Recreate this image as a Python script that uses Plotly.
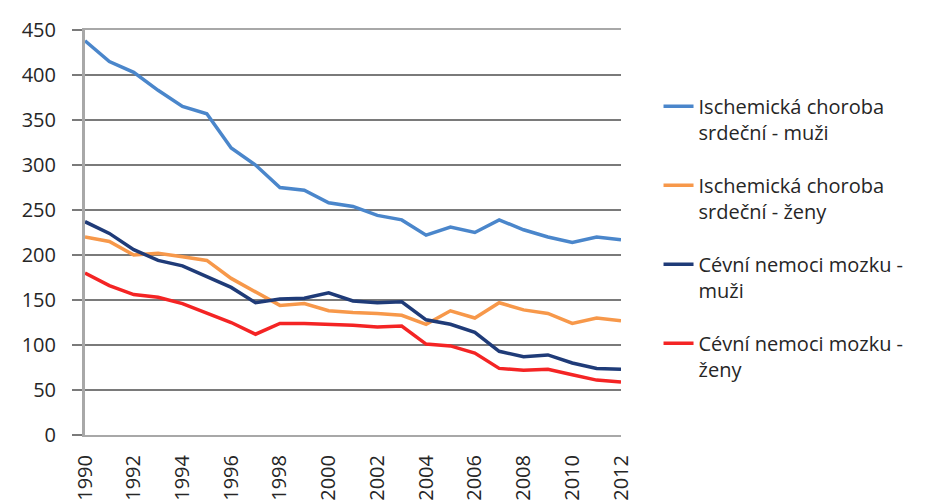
import plotly.graph_objects as go

years = list(range(1990, 2013))
tick_years = list(range(1990, 2013, 2))
tick_labels = [str(y) for y in tick_years]

names = [
    "Ischemická choroba<br>srdeční - muži",
    "Ischemická choroba<br>srdeční - ženy",
    "Cévní nemoci mozku -<br>muži",
    "Cévní nemoci mozku -<br>ženy",
]

ich_muzi = [438, 415, 403, 383, 365, 357, 319, 300, 275, 272, 258, 254, 244, 239, 222, 231, 225, 239, 228, 220, 214, 220, 217]
ich_zeny = [220, 215, 200, 202, 198, 194, 174, 159, 144, 146, 138, 136, 135, 133, 123, 138, 130, 147, 139, 135, 124, 130, 127]
cnm_muzi = [237, 224, 206, 194, 188, 176, 164, 147, 151, 152, 158, 149, 147, 148, 128, 123, 114, 93, 87, 89, 80, 74, 73]
cnm_zeny = [180, 166, 156, 153, 146, 135, 125, 112, 124, 124, 123, 122, 120, 121, 101, 99, 91, 74, 72, 73, 67, 61, 59]

series = [ich_muzi, ich_zeny, cnm_muzi, cnm_zeny]
colors = ["#4A86CB", "#F7984A", "#1F3B78", "#F42424"]

fig = go.Figure()
for i, (name, vals, col) in enumerate(zip(names, series, colors)):
    fig.add_trace(go.Scatter(
        x=years, y=vals, mode="lines", name=name,
        line=dict(color=col, width=3.5),
        legendgroup=f"g{i}",
    ))

font_family = "Open Sans"
fig.update_layout(
    width=933, height=496,
    margin=dict(l=77, r=320, t=22, b=69),
    paper_bgcolor="white", plot_bgcolor="white",
    font=dict(family=font_family, size=20, color="#262626"),
    showlegend=True,
    legend=dict(
        x=1.07, y=0.86, xanchor="left", yanchor="top",
        valign="top", tracegroupgap=24,
        traceorder="grouped",
        font=dict(family=font_family, size=20, color="#262626"),
        bgcolor="rgba(0,0,0,0)",
    ),
    xaxis=dict(
        range=[1990, 2012],
        tickmode="array", tickvals=tick_years, ticktext=tick_labels,
        tickangle=-90, automargin=False,
        showgrid=False, zeroline=False,
        showline=True, linecolor="#A8A8A8", linewidth=2, mirror=True,
        ticks="", ticklabelstandoff=10,
        tickfont=dict(family=font_family, size=20, color="#262626"),
    ),
    yaxis=dict(
        range=[0, 450], automargin=False,
        tickmode="array", tickvals=list(range(0, 451, 50)),
        showgrid=True, gridcolor="#7A7A7A", gridwidth=1.5,
        zeroline=False,
        showline=True, linecolor="#A8A8A8", linewidth=3,
        ticks="outside", ticklen=10, tickcolor="#7A7A7A", tickwidth=1.5,
        ticklabelstandoff=12,
        tickfont=dict(family=font_family, size=20, color="#262626"),
    ),
)

fig.write_html("out.html")
